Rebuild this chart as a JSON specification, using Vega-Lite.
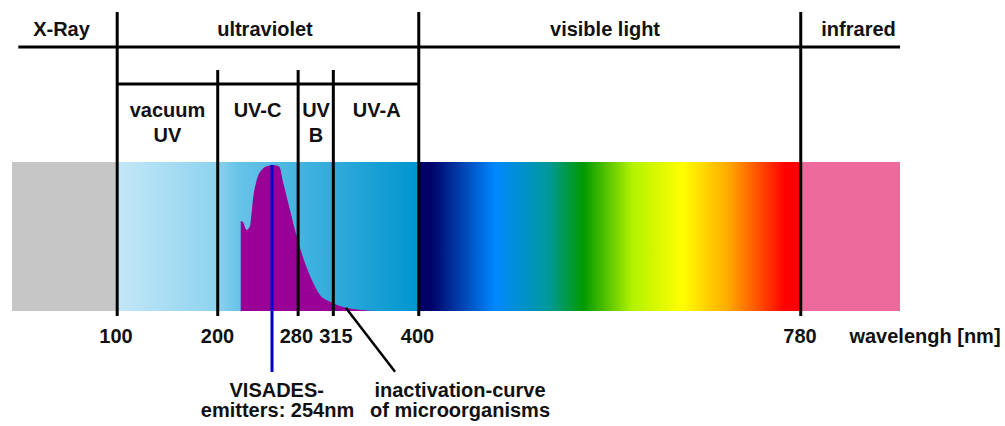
{
  "$schema": "https://vega.github.io/schema/vega-lite/v6.json",
  "width": 1005,
  "height": 426,
  "autosize": {"type": "fit", "contains": "padding"},
  "padding": 0,
  "background": "white",
  "config": {"view": {"stroke": null}},
  "datasets": {
    "bands": [
      {"region": "X-Ray", "from": -4.7, "to": 100},
      {"region": "ultraviolet", "from": 100, "to": 400},
      {"region": "visible light", "from": 400, "to": 780},
      {"region": "infrared", "from": 780, "to": 878.8}
    ],
    "dividers": [
      {"nm": 100, "top": 200.7},
      {"nm": 200, "top": 161.7},
      {"nm": 280, "top": 161.7},
      {"nm": 315, "top": 161.7},
      {"nm": 400, "top": 200.7},
      {"nm": 780, "top": 200.7}
    ],
    "hlines": [
      {"from": 1.6, "to": 878.8, "level": 177.2},
      {"from": 100, "to": 400, "level": 152.3}
    ],
    "curve": [
      {"nm": 222.9, "rel": 60.4},
      {"nm": 225.1, "rel": 59.7},
      {"nm": 228.8, "rel": 54.4},
      {"nm": 232.1, "rel": 57.0},
      {"nm": 235.4, "rel": 76.7},
      {"nm": 238.8, "rel": 87.9},
      {"nm": 243.7, "rel": 94.6},
      {"nm": 250.3, "rel": 97.5},
      {"nm": 255.3, "rel": 98.0},
      {"nm": 261.3, "rel": 96.8},
      {"nm": 265.2, "rel": 85.9},
      {"nm": 271.9, "rel": 67.8},
      {"nm": 278.6, "rel": 49.9},
      {"nm": 286.8, "rel": 32.2},
      {"nm": 295.1, "rel": 18.8},
      {"nm": 301.7, "rel": 10.7},
      {"nm": 311.7, "rel": 6.2},
      {"nm": 321.6, "rel": 3.4},
      {"nm": 334.6, "rel": 1.3},
      {"nm": 351.5, "rel": 0.2},
      {"nm": 366.4, "rel": 0}
    ],
    "pointers": [
      {"kind": "emitter", "x": 254, "y": 98, "x2": 254, "y2": -40.9},
      {"kind": "curve", "x": 327.6, "y": 2.0, "x2": 376.4, "y2": -40.8}
    ],
    "labels": [
      {"nm": 44.6, "level": 184.6, "text": "X-Ray"},
      {"nm": 247.0, "level": 184.6, "text": "ultraviolet"},
      {"nm": 585.3, "level": 184.6, "text": "visible light"},
      {"nm": 837.5, "level": 184.6, "text": "infrared"},
      {"nm": 150.0, "level": 130.2, "text": "vacuum"},
      {"nm": 150.0, "level": 113.4, "text": "UV"},
      {"nm": 239.6, "level": 130.2, "text": "UV-C"},
      {"nm": 297.8, "level": 130.2, "text": "UV"},
      {"nm": 297.8, "level": 113.4, "text": "B"},
      {"nm": 358.2, "level": 130.2, "text": "UV-A"},
      {"nm": 98.8, "level": -21.3, "text": "100"},
      {"nm": 199.8, "level": -21.3, "text": "200"},
      {"nm": 278.2, "level": -21.3, "text": "280"},
      {"nm": 317.5, "level": -21.3, "text": "315"},
      {"nm": 398.8, "level": -21.3, "text": "400"},
      {"nm": 779.3, "level": -21.3, "text": "780"},
      {"nm": 903.6, "level": -21.3, "text": "wavelengh [nm]"},
      {"nm": 258.7, "level": -57.5, "text": "VISADES-"},
      {"nm": 259.5, "level": -70.9, "text": "emitters: 254nm"},
      {"nm": 441.0, "level": -57.5, "text": "inactivation-curve"},
      {"nm": 441.0, "level": -70.9, "text": "of microorganisms"}
    ]
  },
  "encoding": {
    "x": {"type": "quantitative", "scale": {"domain": [-16.6, 983.2], "nice": false, "zero": false}, "axis": null},
    "y": {"type": "quantitative", "scale": {"domain": [-77.2, 208.7], "nice": false, "zero": false}, "axis": null}
  },
  "layer": [
    {
      "data": {"name": "bands"},
      "transform": [{"filter": "datum.region === 'X-Ray'"}],
      "mark": {"type": "rect", "color": "#c6c6c6"},
      "encoding": {"x": {"field": "from"}, "x2": {"field": "to"}, "y": {"datum": 0}, "y2": {"datum": 100}}
    },
    {
      "data": {"name": "bands"},
      "transform": [{"filter": "datum.region === 'infrared'"}],
      "mark": {"type": "rect", "color": "#ec6a9c"},
      "encoding": {"x": {"field": "from"}, "x2": {"field": "to"}, "y": {"datum": 0}, "y2": {"datum": 100}}
    },
    {
      "data": {"name": "bands"},
      "transform": [{"filter": "datum.region === 'ultraviolet'"}],
      "mark": {"type": "rect", "color": {"gradient": "linear", "x1": 0, "x2": 1, "y1": 0, "y2": 0, "stops": [
        {"offset": 0, "color": "#c3e7f7"},
        {"offset": 0.33, "color": "#8ed3ef"},
        {"offset": 0.4, "color": "#68c3e8"},
        {"offset": 1, "color": "#0095cf"}
      ]}},
      "encoding": {"x": {"field": "from"}, "x2": {"field": "to"}, "y": {"datum": 0}, "y2": {"datum": 100}}
    },
    {
      "data": {"name": "bands"},
      "transform": [{"filter": "datum.region === 'visible light'"}],
      "mark": {"type": "rect", "color": {"gradient": "linear", "x1": 0, "x2": 1, "y1": 0, "y2": 0, "stops": [
        {"offset": 0, "color": "#000066"},
        {"offset": 0.03, "color": "#000066"},
        {"offset": 0.2, "color": "#0088ff"},
        {"offset": 0.34, "color": "#00999a"},
        {"offset": 0.43, "color": "#009900"},
        {"offset": 0.56, "color": "#b3f200"},
        {"offset": 0.69, "color": "#ffff00"},
        {"offset": 0.81, "color": "#ffaa00"},
        {"offset": 0.96, "color": "#ff0000"},
        {"offset": 1, "color": "#ff0000"}
      ]}},
      "encoding": {"x": {"field": "from"}, "x2": {"field": "to"}, "y": {"datum": 0}, "y2": {"datum": 100}}
    },
    {
      "data": {"name": "curve"},
      "mark": {"type": "area", "color": "#980096", "interpolate": "monotone", "opacity": 1},
      "encoding": {"x": {"field": "nm"}, "y": {"field": "rel"}, "y2": {"datum": 0}}
    },
    {
      "data": {"name": "dividers"},
      "mark": {"type": "rule", "color": "black", "strokeWidth": 3},
      "encoding": {"x": {"field": "nm"}, "y": {"field": "top"}, "y2": {"datum": -3.4}}
    },
    {
      "data": {"name": "hlines"},
      "mark": {"type": "rule", "color": "black", "strokeWidth": 3},
      "encoding": {"x": {"field": "from"}, "x2": {"field": "to"}, "y": {"field": "level"}}
    },
    {
      "data": {"name": "pointers"},
      "transform": [{"filter": "datum.kind === 'emitter'"}],
      "mark": {"type": "rule", "color": "#0000cc", "strokeWidth": 3},
      "encoding": {"x": {"field": "x"}, "x2": {"field": "x2"}, "y": {"field": "y"}, "y2": {"field": "y2"}}
    },
    {
      "data": {"name": "pointers"},
      "transform": [{"filter": "datum.kind === 'curve'"}],
      "mark": {"type": "rule", "color": "black", "strokeWidth": 2.5},
      "encoding": {"x": {"field": "x"}, "x2": {"field": "x2"}, "y": {"field": "y"}, "y2": {"field": "y2"}}
    },
    {
      "data": {"name": "labels"},
      "mark": {"type": "text", "font": "Liberation Sans", "fontWeight": "bold", "fontSize": 20, "align": "center", "baseline": "alphabetic", "color": "#111111"},
      "encoding": {"x": {"field": "nm"}, "y": {"field": "level"}, "text": {"field": "text"}}
    }
  ]
}
